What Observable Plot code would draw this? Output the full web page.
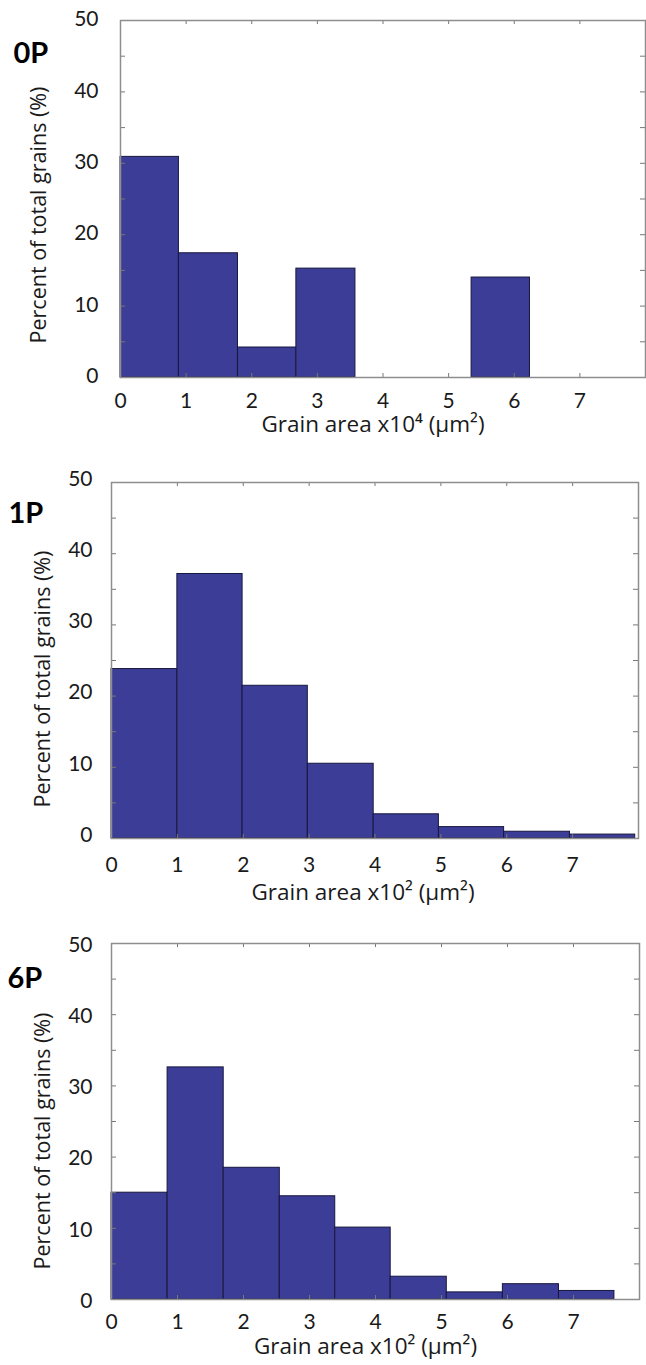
<!DOCTYPE html>
<html><head><meta charset="utf-8">
<script src="https://cdn.jsdelivr.net/npm/d3@7"></script>
<script src="https://cdn.jsdelivr.net/npm/@observablehq/plot@0.6"></script>
<style>
body{margin:0;background:#fff;}
#c svg{display:block;}
</style>
</head><body><div id="c"></div>
<script>
// ---- data ----
const panelLabels = ["0P", "1P", "6P"];
const xTitles = ["Grain area x10⁴ (µm²)", "Grain area x10² (µm²)", "Grain area x10² (µm²)"];
const yTitle = "Percent of total grains (%)";
const xTickValues = [0, 1, 2, 3, 4, 5, 6, 7];
const yTickValues = [0, 10, 20, 30, 40, 50];
const yMinorTicks = [5, 10, 15, 20, 25, 30, 35, 40, 45];
const xInnerTicks = [1, 2, 3, 4, 5, 6, 7];

const edges0P = [0, 0.89, 1.79, 2.68, 3.58, 4.47, 5.35, 6.24, 7.14];
const percent0P = [30.9, 17.4, 4.2, 15.25, 0, 0, 14.0, 0];

const edges1P = [0, 1.0, 1.99, 2.98, 3.98, 4.97, 5.96, 6.96, 7.95];
const percent1P = [23.8, 37.15, 21.45, 10.5, 3.4, 1.6, 0.95, 0.55];

const edges6P = [0, 0.85, 1.70, 2.55, 3.39, 4.23, 5.08, 5.93, 6.78, 7.62];
const percent6P = [15.0, 32.6, 18.5, 14.5, 10.1, 3.2, 1.0, 2.15, 1.2];

// ---- layout ----
const layout = [
  {h: 450, mt: 20, mb: 73, ml: 120, mr: 1, tickPadY: 22, tickDyY: -1, tickPadX: 16, labelDx: -107, labelDy: 33.5, yTitleDx: -81, yTitleDy: 16, xTitleDx: -10, xTitleDy: 47},
  {h: 460, mt: 32, mb: 72, ml: 111, mr: 8, tickPadY: 19, tickDyY: -3.5, tickPadX: 19, labelDx: -103, labelDy: 31, yTitleDx: -68.5, yTitleDy: 18.5, xTitleDx: -12, xTitleDy: 54},
  {h: 455, mt: 33, mb: 66, ml: 111, mr: 7, tickPadY: 19, tickDyY: 1.5, tickPadX: 15, labelDx: -104, labelDy: 35, yTitleDx: -68.5, yTitleDy: 19.5, xTitleDx: -10, xTitleDy: 47.5}
];
const series = [[edges0P, percent0P], [edges1P, percent1P], [edges6P, percent6P]];

const fillColor = "#3c3d97";
const edgeColor = "#17173f";
const frameColor = "#8e8e8e";
const font = "Lato, 'Open Sans', sans-serif";
const titleFont = "'Open Sans', sans-serif";

function panel(i) {
  const L = layout[i];
  const [edges, values] = series[i];
  const bins = values.map((v, k) => ({x1: edges[k], x2: edges[k + 1], v})).filter(d => d.v > 0);
  const pw = 646 - L.ml - L.mr, ph = L.h - L.mt - L.mb;
  return Plot.plot({
    width: 646, height: L.h,
    marginTop: L.mt, marginBottom: L.mb, marginLeft: L.ml, marginRight: L.mr,
    x: {domain: [0, 8]},
    y: {domain: [0, 50]},
    style: {fontFamily: font, background: "white", color: "#1a1a1a", overflow: "visible"},
    marks: [
      Plot.rectY(bins, {x1: "x1", x2: "x2", y: "v", fill: fillColor, stroke: edgeColor, strokeWidth: 1}),
      Plot.ruleX(xInnerTicks, {x: d => d, insetBottom: ph - 4, stroke: "#777"}),
      Plot.ruleX(xInnerTicks, {x: d => d, insetTop: ph - 4, stroke: "#777"}),
      Plot.ruleY(yMinorTicks, {y: d => d, insetRight: pw - 5, stroke: "#777"}),
      Plot.ruleY(yMinorTicks, {y: d => d, insetLeft: pw - 5, stroke: "#777"}),
      Plot.frame({stroke: frameColor, strokeWidth: 1.5}),
      Plot.axisX(xTickValues, {tickSize: 0, tickPadding: L.tickPadX, fontSize: 21, label: null}),
      Plot.axisY(yTickValues, {tickSize: 0, tickPadding: L.tickPadY, dy: L.tickDyY, fontSize: 21, label: null}),
      Plot.text([panelLabels[i]], {text: d => d, frameAnchor: "top-left", textAnchor: "start", lineAnchor: "middle", dx: L.labelDx, dy: L.labelDy, fontSize: 29, fontWeight: "bold", fill: "#000"}),
      Plot.text([yTitle], {text: d => d, frameAnchor: "left", textAnchor: "middle", rotate: -90, lineAnchor: "middle", dx: L.yTitleDx, dy: L.yTitleDy, fontSize: 21.5, fontFamily: titleFont}),
      Plot.text([xTitles[i]], {text: d => d, frameAnchor: "bottom", textAnchor: "middle", lineAnchor: "middle", dx: L.xTitleDx, dy: L.xTitleDy, fontSize: 22.5, fontFamily: titleFont})
    ]
  });
}

const c = document.getElementById("c");
for (let i = 0; i < 3; i++) c.appendChild(panel(i));
</script>
</body></html>
